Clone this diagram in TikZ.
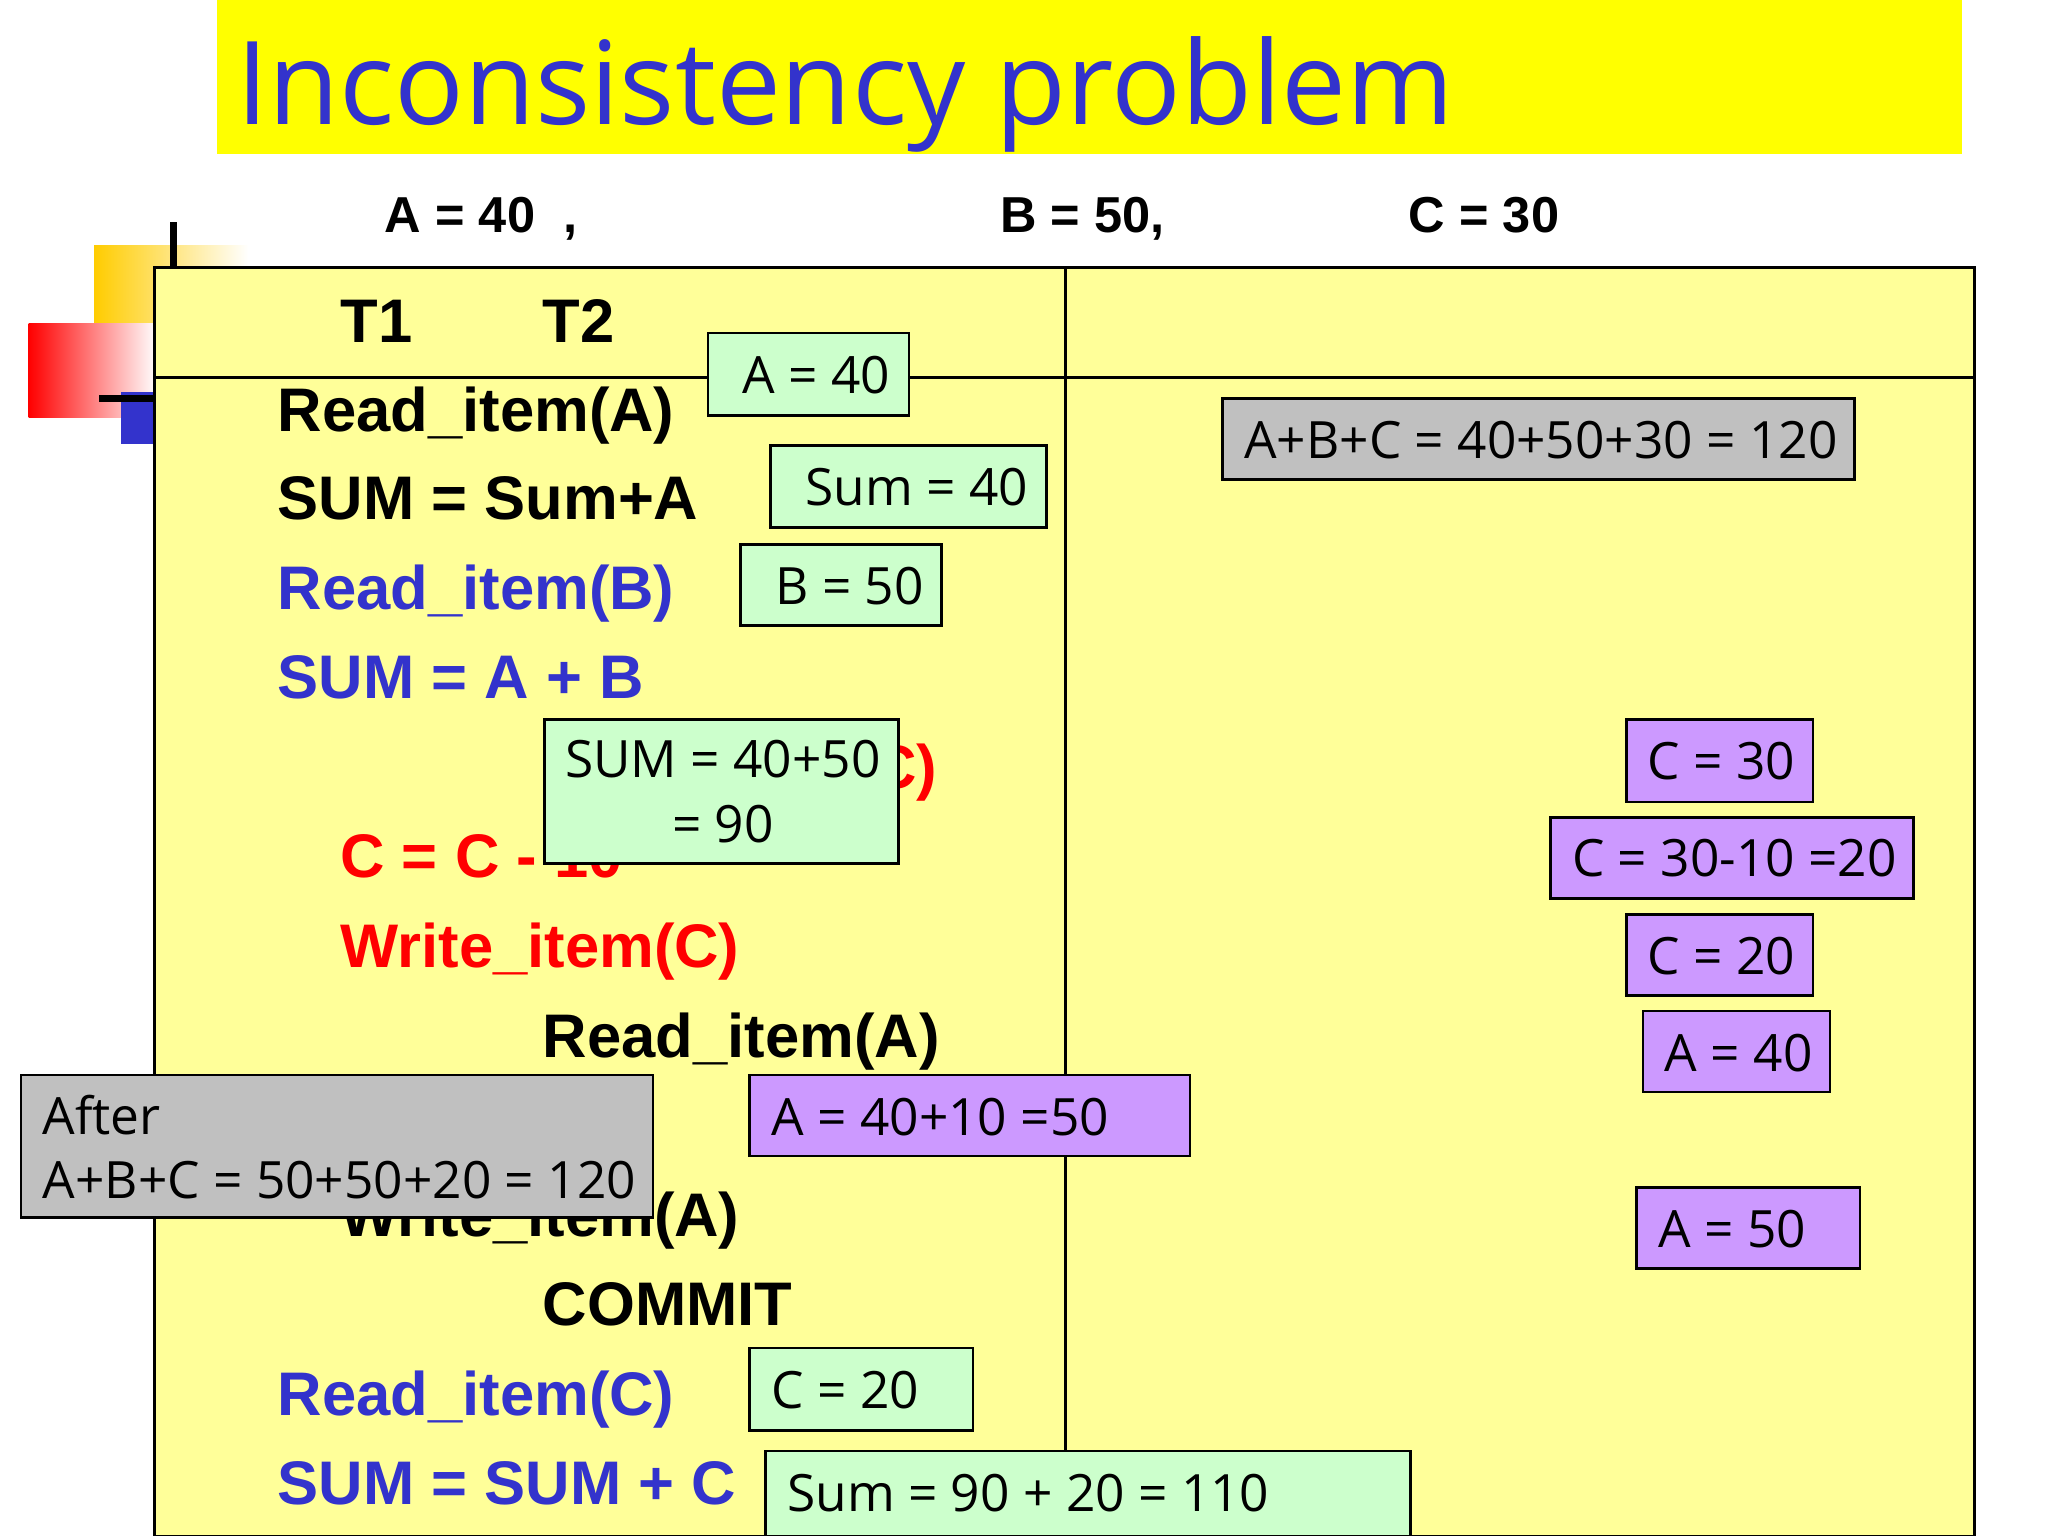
\documentclass[tikz,border=0pt]{standalone}
\usepackage{fontspec}
\setmainfont{Liberation Sans}
\newfontfamily\boxfont{Open Sans}
\definecolor{titleyel}{RGB}{255,255,0}
\definecolor{tabyel}{RGB}{255,255,153}
\definecolor{grn}{RGB}{204,255,204}
\definecolor{gry}{RGB}{192,192,192}
\definecolor{pur}{RGB}{204,153,255}
\definecolor{blu}{RGB}{51,51,204}
\definecolor{rd}{RGB}{255,0,0}
\definecolor{decoyel}{RGB}{255,204,0}
\tikzset{
 px/.style={x=0.01cm,y=-0.01cm},
 row/.style={anchor=base west,inner sep=0pt,font=\fontsize{13.4}{16}\selectfont\bfseries},
 boxtxt/.style={anchor=west,inner sep=0pt,font=\boxfont\fontsize{11.2}{14}\selectfont,align=left},
 gbox/.style={draw=black,fill=grn,line width=0.6pt},
 gybox/.style={draw=black,fill=gry,line width=0.6pt},
 pbox/.style={draw=black,fill=pur,line width=0.6pt},
}
\begin{document}
\begin{tikzpicture}[px]
\useasboundingbox (0,0) rectangle (1568,1176);
% title
\fill[titleyel] (166,0) rectangle (1502,118);
\node[anchor=base west,inner sep=0pt,text=blu,font=\boxfont\fontsize{25.2}{30}\selectfont] (title) at (180,95) {Inconsistency problem};
% top labels
\node[anchor=base west,inner sep=0pt,font=\fontsize{11}{13}\selectfont\bfseries] (la) at (294,178) {A = 40\ \ ,};
\node[anchor=base west,inner sep=0pt,font=\fontsize{11}{13}\selectfont\bfseries] (lb) at (765,178) {B = 50,};
\node[anchor=base west,inner sep=0pt,font=\fontsize{11}{13}\selectfont\bfseries] (lc) at (1078,178) {C = 30};
% decoration
\shade[left color=decoyel,right color=white] (72,188) rectangle (190,300);
\shade[left color=rd,right color=white] (22,248) rectangle (120,320);
\fill[blu] (93,300) rectangle (118,340);
\draw[line width=1.5pt] (133,170) -- (133,300);
\draw[line width=1.5pt] (76,305) -- (120,305);
% table
\draw[fill=tabyel,line width=0.6pt] (118,205) rectangle (1512,1176);
\draw[line width=0.6pt] (816,205) -- (816,1176);
\draw[line width=0.6pt] (118,289) -- (1512,289);
\node[row] (t1) at (260,262) {T1};
\node[row] (t2) at (415,262) {T2};
% rows
\node[row] (r1) at (212,330) {Read\_item(A)};
\node[row] (r2) at (212,398) {SUM = Sum+A};
\node[row,text=blu] (r3) at (212,467) {Read\_item(B)};
\node[row,text=blu] (r4) at (212,535) {SUM = A + B};
\node[row,text=rd] (r5) at (413,604) {Read\_item(C)};
\node[row,text=rd] (r6) at (260,672) {C = C - 10};
\node[row,text=rd] (r7) at (260,741) {Write\_item(C)};
\node[row] (r8) at (415,810) {Read\_item(A)};
\node[row] (r9) at (260,878) {A = A + 10};
\node[row] (r10) at (260,947) {Write\_item(A)};
\node[row] (r11) at (415,1015) {COMMIT};
\node[row,text=blu] (r12) at (212,1084) {Read\_item(C)};
\node[row,text=blu] (r13) at (212,1152) {SUM = SUM + C};
% green boxes
\draw[gbox] (542,255) rectangle (696,318); \node[boxtxt] (g1) at (568,287) {A = 40};
\draw[gbox] (590,341) rectangle (801,404); \node[boxtxt] (g2) at (616,373) {Sum = 40};
\draw[gbox] (567,417) rectangle (721,479); \node[boxtxt] (g3) at (593,449) {B = 50};
\draw[gbox] (417,551) rectangle (688,661); \node[boxtxt,align=center] (g4) at (432,606) {SUM = 40+50\\= 90};
\draw[gbox] (574,1032) rectangle (745,1095); \node[boxtxt] (g5) at (590,1064) {C = 20};
\draw[gbox] (586,1111) rectangle (1080,1176); \node[boxtxt] (g6) at (602,1143) {Sum = 90 + 20 = 110};
% gray boxes
\draw[gybox] (936,305) rectangle (1420,367); \node[boxtxt] (y1) at (952,337) {A+B+C = 40+50+30 = 120};
\draw[gybox] (16,823) rectangle (500,932); \node[boxtxt] (y2) at (32,878) {After\\A+B+C = 50+50+20 = 120};
% purple boxes
\draw[pbox] (1245,551) rectangle (1388,614); \node[boxtxt] (p1) at (1261,583) {C = 30};
\draw[pbox] (1187,626) rectangle (1465,688); \node[boxtxt] (p2) at (1203,657) {C = 30-10 =20};
\draw[pbox] (1245,700) rectangle (1388,762); \node[boxtxt] (p3) at (1261,732) {C = 20};
\draw[pbox] (1258,774) rectangle (1401,836); \node[boxtxt] (p4) at (1274,806) {A = 40};
\draw[pbox] (574,823) rectangle (911,885); \node[boxtxt] (p5) at (590,855) {A = 40+10 =50};
\draw[pbox] (1253,909) rectangle (1424,971); \node[boxtxt] (p6) at (1269,941) {A = 50};
\end{tikzpicture}
\end{document}
